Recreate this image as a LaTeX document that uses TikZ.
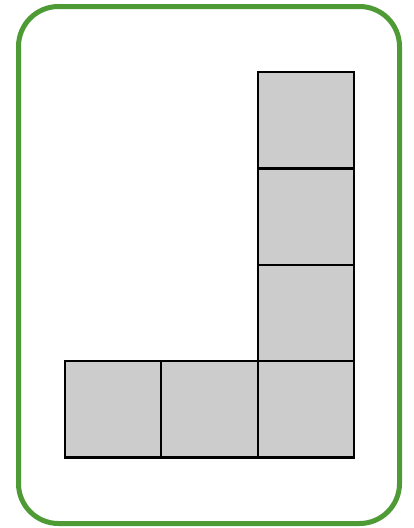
\documentclass[tikz,border=0pt]{standalone}
\definecolor{framegreen}{RGB}{78,154,52}
\definecolor{cellgray}{RGB}{204,204,204}
\tikzset{
  frame/.style={draw=framegreen, line width=5pt, rounded corners=40pt},
  cell/.style={draw=black, fill=cellgray, line width=2.2pt, minimum width=96.3pt, minimum height=96.3pt, inner sep=0pt, outer sep=0pt}
}
\begin{document}
\begin{tikzpicture}[x=1pt,y=-1pt]
\useasboundingbox (0,0) rectangle (414,528);
\draw[frame] (18.5,6.5) rectangle (399.5,523.5);
\node[cell] (c1) at (113.2,409.3) {};
\node[cell] (c2) at (209.5,409.3) {};
\node[cell] (c3) at (305.8,409.3) {};
\node[cell] (c4) at (305.8,313.0) {};
\node[cell] (c5) at (305.8,216.7) {};
\node[cell] (c6) at (305.8,120.4) {};
\end{tikzpicture}
\end{document}
